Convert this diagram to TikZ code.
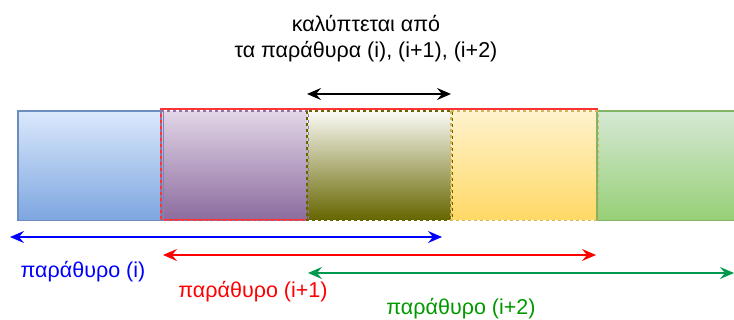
\documentclass[tikz,border=0pt]{standalone}
\usepackage{fontspec}
\setmainfont{Liberation Sans}
\usetikzlibrary{arrows.meta}
\definecolor{bluetop}{HTML}{DAE8FC}\definecolor{bluebot}{HTML}{7EA6E0}\definecolor{blueline}{HTML}{6C8EBF}
\definecolor{purptop}{HTML}{E1D5E7}\definecolor{purpbot}{HTML}{8C6C9E}\definecolor{purpline}{HTML}{9673A6}
\definecolor{olivetop}{HTML}{FAFAF5}\definecolor{olivebot}{HTML}{666600}
\definecolor{yeltop}{HTML}{FFF2CC}\definecolor{yelbot}{HTML}{FFD966}\definecolor{yelline}{HTML}{D6B656}
\definecolor{greentop}{HTML}{D5E8D4}\definecolor{greenbot}{HTML}{97D077}\definecolor{greenline}{HTML}{82B366}
\definecolor{winred}{HTML}{FF3333}
\definecolor{arrgreen}{HTML}{00994D}
\definecolor{txtgreen}{HTML}{009900}
\begin{document}
\begin{tikzpicture}[x=1pt,y=-1pt,
  cell/.style={line width=1.2pt, minimum width=144pt, minimum height=108pt,
    inner sep=0pt, anchor=north west},
  span/.style={line width=1.4pt, {Stealth[length=14pt,width=12pt,inset=5pt]}-{Stealth[length=14pt,width=12pt,inset=5pt]}},
  lbl/.style={font=\fontsize{21.5}{26}\selectfont, align=center}]
\useasboundingbox (0,0) rectangle (734,320);
% sliding window cells
\node[cell, top color=bluetop, bottom color=bluebot] (c1) at (18,111) {};
\node[cell, minimum width=436pt, minimum height=110pt] (win) at (161,109) {};
\node[cell, top color=purptop, bottom color=purpbot, minimum width=146pt] (c2) at (161,111) {};
\node[cell, top color=olivetop, bottom color=olivebot] (c3) at (307,111) {};
\node[cell, top color=yeltop, bottom color=yelbot, minimum width=146pt] (c4) at (451,111) {};
\node[cell, top color=greentop, bottom color=greenbot, minimum width=150pt] (c5) at (597,111) {};
% window outline below the dashed cell outlines
\draw[winred, line width=1.5pt] (win.north east) -- (win.north west) -- (win.south west) -- (c2.south east);
\draw[blueline, line width=1.2pt] (c1.north west) rectangle (c1.south east);
\draw[greenline, line width=1.2pt] (c5.north west) rectangle (c5.south east);
\draw[purpline, line width=1.2pt, dashed] (c2.north west) rectangle (c2.south east);
\draw[olivebot, line width=1.2pt, dashed] (c3.north west) rectangle (c3.south east);
\draw[yelline, line width=1.2pt, dashed] (c4.north west) rectangle (c4.south east);
% span endpoints
\coordinate (ka) at (307,94);  \coordinate (kb) at (451,94);
\coordinate (wa) at (10,237);  \coordinate (wb) at (442,237);
\coordinate (xa) at (163,255); \coordinate (xb) at (596,255);
\coordinate (ya) at (308,273); \coordinate (yb) at (734,273);
\draw[span, black] (ka) -- (kb);
\draw[span, blue] (wa) -- (wb);
\draw[span, red] (xa) -- (xb);
\draw[span, arrgreen] (ya) -- (yb);
% labels
\node[lbl] (t0) at (366,39) {καλύπτεται από\\τα παράθυρα (i), (i+1), (i+2)};
\node[lbl, text=blue] (t1) at (83,272) {παράθυρο (i)};
\node[lbl, text=red] (t2) at (253,292) {παράθυρο (i+1)};
\node[lbl, text=txtgreen] (t3) at (461,309) {παράθυρο (i+2)};
\end{tikzpicture}
\end{document}
